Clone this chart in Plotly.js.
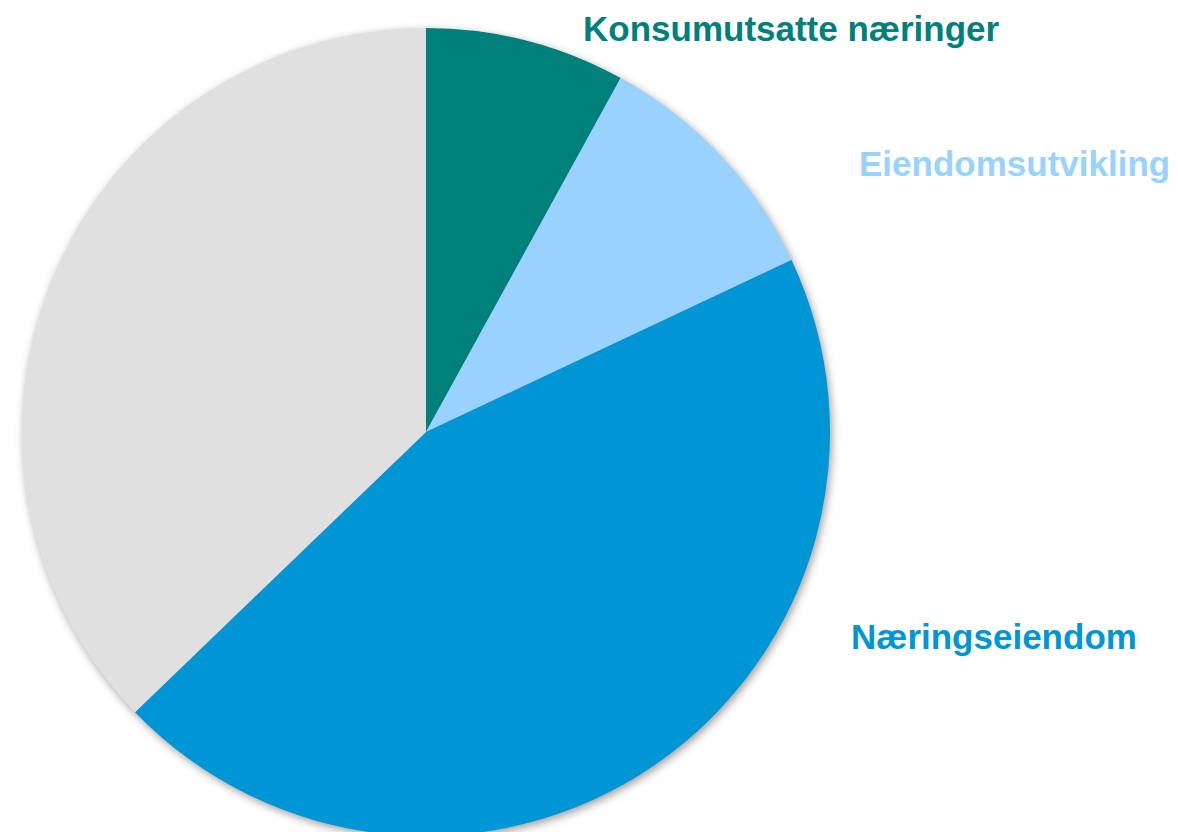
<!DOCTYPE html>
<html>
<head>
<meta charset="utf-8">
<script src="https://cdn.plot.ly/plotly-3.0.1.min.js"></script>
<style>
html, body { margin: 0; padding: 0; overflow: hidden; background: #ffffff; }
#chart { width: 1178px; height: 840px; }
.pielayer { filter: drop-shadow(2px 3px 4px rgba(0,0,0,0.38)); }
</style>
</head>
<body>
<div id="chart"></div>
<script>
// Data
const categories = ["Konsumutsatte næringer", "Eiendomsutvikling", "Næringseiendom", "Øvrige"];
const shares = [8.0, 10.0, 44.8, 37.2];
const sliceColors = ["#00807B", "#99D1FF", "#0096D6", "#E0E0E0"];
const shownLabels = ["Konsumutsatte næringer", "Eiendomsutvikling", "Næringseiendom"];

const W = 1178, H = 840;
// label placement (pixels from top-left) - layout only
const labelPos = [
  {x: 581, y: 29},
  {x: 857, y: 164},
  {x: 849, y: 636}
];

const trace = {
  type: "pie",
  labels: categories,
  values: shares,
  sort: false,
  direction: "clockwise",
  rotation: 0,
  marker: { colors: sliceColors, line: { width: 0 } },
  textinfo: "none",
  hoverinfo: "label+percent",
  showlegend: false,
  domain: { x: [22 / W, 830 / W], y: [4 / H, 812 / H] }
};

const annotations = shownLabels.map((t, i) => ({
  text: "<b>" + t + "</b>",
  xref: "paper", yref: "paper",
  x: labelPos[i].x / W, y: 1 - labelPos[i].y / H,
  xanchor: "left", yanchor: "middle",
  showarrow: false,
  font: { family: "Liberation Sans, Arial, sans-serif", size: 35, color: sliceColors[i] }
}));

const layout = {
  width: W, height: H, autosize: false,
  margin: { l: 0, r: 0, t: 0, b: 0 },
  paper_bgcolor: "#ffffff",
  plot_bgcolor: "#ffffff",
  annotations: annotations
};

Plotly.newPlot("chart", [trace], layout, { displayModeBar: false, staticPlot: true });
</script>
</body>
</html>
